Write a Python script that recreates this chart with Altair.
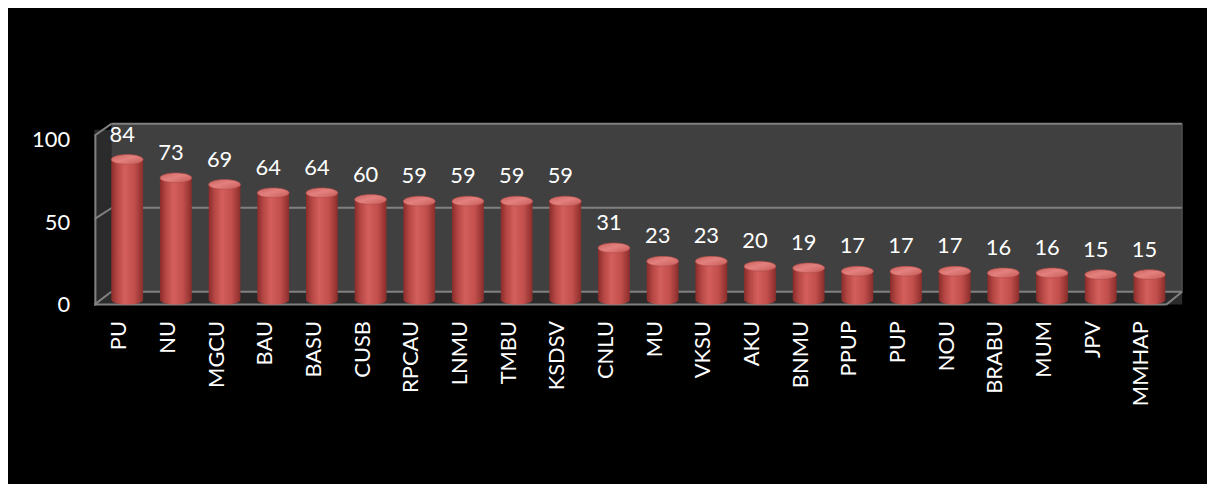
import altair as alt
import pandas as pd

universities = ["PU", "NU", "MGCU", "BAU", "BASU", "CUSB", "RPCAU", "LNMU", "TMBU", "KSDSV",
                "CNLU", "MU", "VKSU", "AKU", "BNMU", "PPUP", "PUP", "NOU", "BRABU", "MUM", "JPV", "MMHAP"]
percentages = [84, 73, 69, 64, 64, 60, 59, 59, 59, 59, 31, 23, 23, 20, 19, 17, 17, 17, 16, 16, 15, 15]
y_ticks = [0, 50, 100]
title_text = "Picture -1 Content available on Library websites of Universities (in percentage)"

df = pd.DataFrame({"uni": universities, "pct": percentages})
one = pd.DataFrame({"a": [0]})

W, H = 1095, 190
FONT = "Lato"

# scales (perspective: back wall, cylinders, front axis)
back_scale = alt.Scale(domain=[0, 100], range=[172, 3])
bar_scale = alt.Scale(domain=[0, 100], range=[180, 12])
axis_scale = alt.Scale(domain=[0, 100], range=[185, 19])

x_enc = alt.X("uni:N", sort=universities,
              scale=alt.Scale(paddingInner=0.347, paddingOuter=0.347),
              axis=alt.Axis(title=None, labelAngle=-90, labelColor="white", labelFont=FONT,
                            labelFontSize=22, labelPadding=11, labelOffset=-8,
                            ticks=False, domain=False, grid=False))

body_grad = alt.Gradient(gradient="linear", x1=0, x2=1, y1=0, y2=0, stops=[
    alt.GradientStop(offset=0, color="#8a2c2a"),
    alt.GradientStop(offset=0.18, color="#b44643"),
    alt.GradientStop(offset=0.42, color="#d45f5c"),
    alt.GradientStop(offset=0.72, color="#c24f4c"),
    alt.GradientStop(offset=1, color="#8a2d2b")])
cap_grad = alt.Gradient(gradient="linear", x1=0, x2=1, y1=0, y2=1, stops=[
    alt.GradientStop(offset=0, color="#c9605d"),
    alt.GradientStop(offset=0.45, color="#e3817e"),
    alt.GradientStop(offset=1, color="#c55a57")])

ellipse = "M -1 0 A 1 0.31 0 1 1 1 0 A 1 0.31 0 1 1 -1 0 Z"

GRID = "#808080"

# decorations: side wall and floor
side_wall = alt.Chart(one).mark_rect(color="#2b2b2b").encode(
    x=alt.value(0), x2=alt.value(17), y=alt.value(9), y2=alt.value(185))
floor = alt.Chart(one).mark_rect(color="#2b2b2b").encode(
    x=alt.value(0), x2=alt.value(1095), y=alt.value(172), y2=alt.value(185))

wall = alt.Chart(pd.DataFrame({"top": [100], "bottom": [0]})).mark_rect(color="#404040").encode(
    x=alt.value(17), x2=alt.value(1095),
    y=alt.Y("top:Q", scale=back_scale, axis=None), y2="bottom:Q")
grid = alt.Chart(pd.DataFrame({"v": y_ticks})).mark_rule(color=GRID, strokeWidth=2).encode(
    x=alt.value(17), x2=alt.value(1095),
    y=alt.Y("v:Q", scale=back_scale, axis=None))
back = alt.layer(wall, grid)

def seg(x1, y1, x2, y2, color=GRID, w=2):
    return alt.Chart(one).mark_rule(color=color, strokeWidth=w).encode(
        x=alt.value(x1), y=alt.value(y1), x2=alt.value(x2), y2=alt.value(y2))

lines = [
    seg(0, 15, 17, 3), seg(0, 99, 17, 88), seg(0, 185, 17, 172),
    seg(1, 15, 1, 186), seg(0, 185, 1079, 185), seg(1079, 185, 1095, 172),
    seg(1095, 3, 1095, 172, color="#5a5a5a", w=1),
]

bottom_ell = alt.Chart(df).mark_point(shape=ellipse, size=1024, filled=True, fill=body_grad,
                                      opacity=1, strokeWidth=0).encode(
    x=x_enc, y=alt.Y(datum=0, scale=bar_scale, axis=None))
body = alt.Chart(df).mark_bar(fill=body_grad).encode(
    x=x_enc, y=alt.Y("pct:Q", scale=bar_scale, axis=None), y2=alt.Y2(datum=0))
cap = alt.Chart(df).mark_point(shape=ellipse, size=1024, filled=True, fill=cap_grad,
                               opacity=1, stroke="#b24a47", strokeWidth=0.6).encode(
    x=x_enc, y=alt.Y("pct:Q", scale=bar_scale, axis=None))
labels = alt.Chart(df).mark_text(dy=-18, dx=-5, baseline="alphabetic", font=FONT,
                                 fontSize=22, color="white").encode(
    x=x_enc, y=alt.Y("pct:Q", scale=bar_scale, axis=None), text="pct:Q")
bars = alt.layer(bottom_ell, body, cap, labels)

axis_layer = alt.Chart(pd.DataFrame({"t": y_ticks})).mark_rule(opacity=0).encode(
    y=alt.Y("t:Q", scale=axis_scale,
            axis=alt.Axis(values=y_ticks, orient="left", title=None, labelColor="white",
                          labelFont=FONT, labelFontSize=22, labelPadding=25,
                          ticks=False, domain=False, grid=False)))

title = alt.Chart(pd.DataFrame({"t": [title_text]})).mark_text(
    font="Liberation Serif", fontWeight="bold", fontSize=26, color="black",
    align="center", baseline="alphabetic").encode(
    text="t:N", x=alt.value(512), y=alt.value(-116))

chart = alt.layer(side_wall, floor, back, *lines, bars, axis_layer, title).resolve_scale(
    y="independent"
).properties(
    width=W, height=H,
    autosize=alt.AutoSizeParams(type="none"),
    padding={"left": 87, "top": 112, "right": 25, "bottom": 174},
    background="black",
).configure_view(stroke=None)

chart.save("out.html", embed_options={"renderer": "svg", "actions": False})
